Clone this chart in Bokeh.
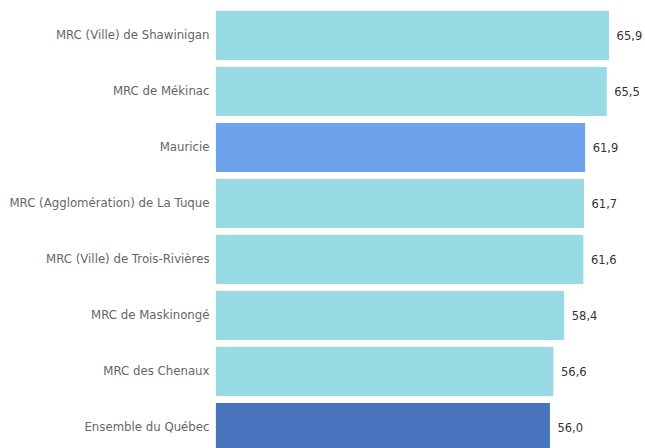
from bokeh.plotting import figure
from bokeh.models import ColumnDataSource, Range1d, FixedTicker
from bokeh.core.properties import value
from bokeh.embed import file_html
from bokeh.resources import INLINE

categories = ["MRC (Ville) de Shawinigan", "MRC de Mékinac", "Mauricie",
              "MRC (Agglomération) de La Tuque", "MRC (Ville) de Trois-Rivières",
              "MRC de Maskinongé", "MRC des Chenaux", "Ensemble du Québec"]
values = [65.9, 65.5, 61.9, 61.7, 61.6, 58.4, 56.6, 56.0]
labels = ["65,9", "65,5", "61,9", "61,7", "61,6", "58,4", "56,6", "56,0"]
colors = ["#99dbe5", "#99dbe5", "#6ca3ec", "#99dbe5", "#99dbe5", "#99dbe5", "#99dbe5", "#4874bd"]

pos = list(range(len(categories)))
src = ColumnDataSource(dict(y=pos, v=values, lab=labels, c=colors))

p = figure(width=645, height=448, output_backend="svg", toolbar_location=None,
           x_range=Range1d(0, 71.9), y_range=Range1d(7.375, -0.482),
           min_border_left=215, min_border_right=0, min_border_top=8, min_border_bottom=0)
p.hbar(y="y", right="v", left=0, height=0.893, fill_color="c", line_color="white",
       line_width=1, source=src)
p.text(x="v", y="y", text="lab", x_offset=7, text_baseline="middle", text_align="left",
       text_font=value("DejaVu Sans"), text_font_size="11.5px", text_color="#333333", source=src)

p.xaxis.visible = False
p.xgrid.visible = False
p.ygrid.visible = False
p.outline_line_color = None
ax = p.yaxis[0]
ax.ticker = FixedTicker(ticks=pos)
ax.major_label_overrides = {i: c for i, c in enumerate(categories)}
ax.axis_line_color = None
ax.major_tick_line_color = None
ax.minor_tick_line_color = None
ax.major_label_text_font = "DejaVu Sans"
ax.major_label_text_font_size = "11.75px"
ax.major_label_text_color = "#666666"
ax.major_label_standoff = 0

open("out.html", "w").write(file_html(p, INLINE))
